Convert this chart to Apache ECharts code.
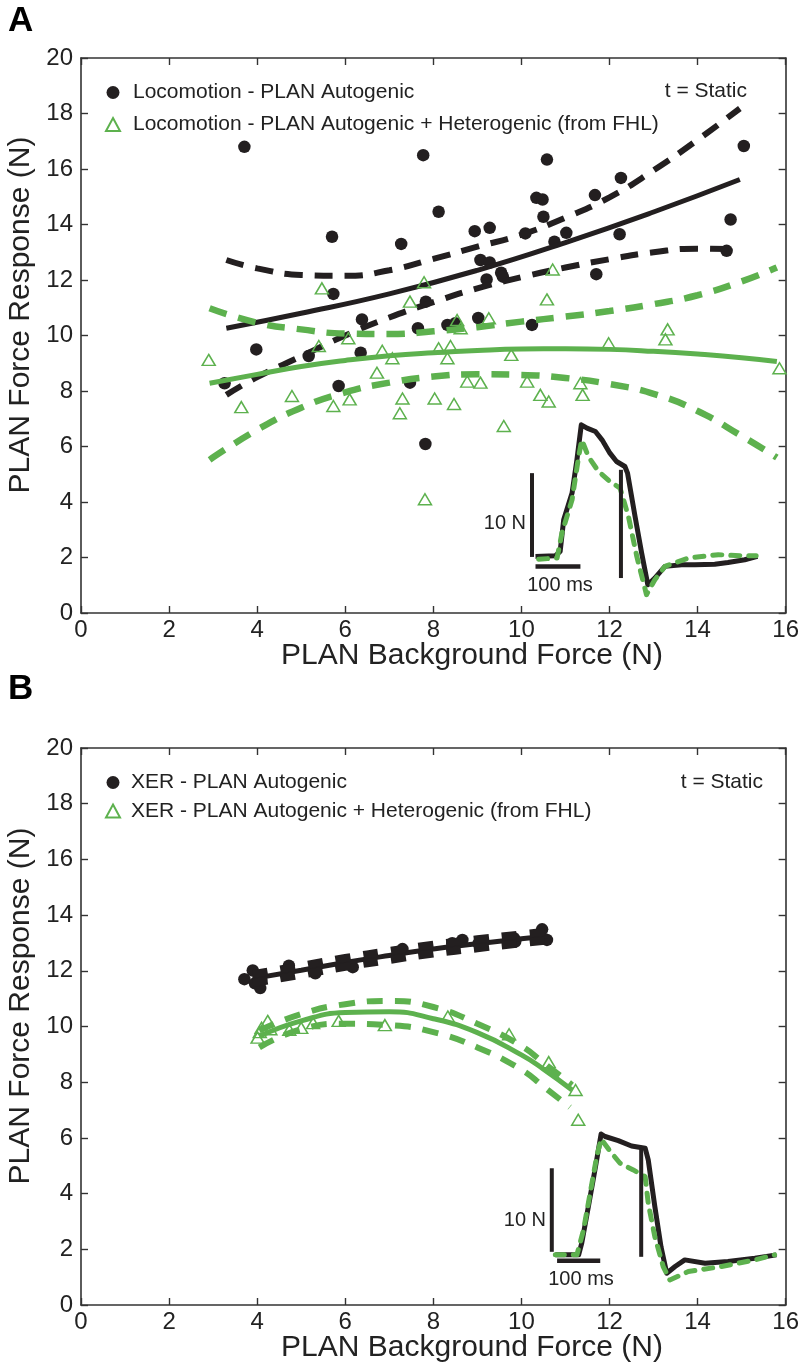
<!DOCTYPE html>
<html>
<head>
<meta charset="utf-8">
<script src="https://cdn.jsdelivr.net/npm/echarts@6/dist/echarts.min.js"></script>
<style>
html,body{margin:0;padding:0;background:#fff;}
#chart{width:802px;height:1367px;}
</style>
</head>
<body>
<div id="chart"></div>
<script>
// ---------------- DATA ----------------
const xTickValues = [0, 2, 4, 6, 8, 10, 12, 14, 16];
const yTickValues = [0, 2, 4, 6, 8, 10, 12, 14, 16, 18, 20];

// Panel A – Locomotion
const locoAutogenic = [[3.26,8.28],[3.71,16.8],[3.98,9.5],[5.17,9.26],[5.70,13.56],[5.73,11.5],[5.85,8.18],[6.35,9.38],[6.38,10.58],[7.27,13.3],[7.47,8.3],[7.65,10.26],[7.77,16.5],[7.83,11.22],[7.82,6.09],[8.12,14.46],[8.32,10.38],[8.5,10.44],[8.94,13.76],[9.02,10.63],[9.07,12.72],[9.21,12.02],[9.28,13.88],[9.28,12.63],[9.54,12.26],[9.58,12.12],[10.09,13.68],[10.24,10.38],[10.34,14.96],[10.48,14.9],[10.5,14.28],[10.58,16.34],[10.75,13.38],[11.02,13.7],[11.67,15.06],[11.70,12.21],[12.23,13.65],[12.26,15.68],[14.66,13.05],[14.75,14.18],[15.05,16.83]];
const locoHetero = [[2.9,9.12],[3.64,7.42],[4.79,7.82],[5.4,9.62],[5.47,11.7],[5.73,7.46],[6.07,9.9],[6.1,7.7],[6.72,8.66],[6.84,9.45],[7.07,9.18],[7.24,7.2],[7.3,7.73],[7.47,11.22],[7.79,11.92],[7.81,4.1],[8.03,7.73],[8.12,9.54],[8.32,9.18],[8.39,9.62],[8.47,7.53],[8.54,10.56],[8.62,10.26],[8.77,8.34],[9.07,8.3],[9.26,10.62],[9.6,6.74],[9.77,9.3],[10.13,8.34],[10.43,7.86],[10.58,11.3],[10.62,7.62],[10.71,12.38],[11.34,8.28],[11.39,7.86],[11.98,9.72],[13.27,9.86],[13.32,10.22],[15.86,8.82]];
const locoAutoFit   = [[3.3,10.26],[5,10.8],[7,11.5],[9,12.35],[11,13.35],[13,14.45],[14.96,15.62]];
const locoAutoUpper = [[3.3,12.72],[4,12.42],[5,12.18],[6,12.15],[7,12.35],[8,12.76],[9,13.2],[10,13.63],[11,14.25],[12,14.98],[13,15.95],[14,17.05],[14.96,18.18]];
const locoAutoLower = [[3.3,7.86],[4,8.5],[5,9.25],[6,10.0],[7,10.65],[8,11.2],[9,11.7],[10,12.1],[11,12.45],[12,12.75],[13,13.0],[14,13.13],[14.96,13.1]];
const locoHetFit    = [[2.92,8.28],[4,8.6],[5,8.88],[6,9.1],[7,9.27],[8,9.38],[9,9.46],[10,9.51],[11,9.52],[12,9.5],[13,9.43],[14,9.33],[15,9.2],[15.8,9.06]];
const locoHetUpper  = [[2.92,10.98],[4,10.46],[5,10.22],[6,10.07],[7,10.05],[8,10.15],[9,10.3],[10,10.5],[11,10.68],[12,10.88],[13,11.13],[14,11.45],[15,11.95],[15.8,12.45]];
const locoHetLower  = [[2.92,5.52],[4,6.6],[5,7.4],[6,7.95],[7,8.3],[8,8.52],[9,8.6],[10,8.58],[11,8.47],[12,8.25],[13,7.9],[14,7.28],[15,6.38],[15.8,5.6]];
// Panel A inset traces (drawn in axis units)
const locoTraceAuto = [[10.32,2.04],[10.77,2.06],[10.88,2.22],[10.96,3.36],[11.15,4.32],[11.26,5.52],[11.36,6.78],[11.49,6.66],[11.68,6.54],[11.83,6.24],[12.01,5.76],[12.16,5.46],[12.35,5.28],[12.41,5.04],[12.58,3.48],[12.73,2.16],[12.87,1.02],[13.03,1.26],[13.26,1.68],[13.64,1.74],[13.94,1.74],[14.39,1.76],[14.69,1.82],[15.07,1.92],[15.36,2.04]];
const locoTraceHet  = [[10.39,1.94],[10.81,1.98],[10.92,2.88],[11.15,4.08],[11.3,5.64],[11.37,6.24],[11.52,5.64],[11.75,5.1],[12.01,4.74],[12.24,4.5],[12.43,3.48],[12.62,2.04],[12.84,0.66],[13.03,1.2],[13.26,1.68],[13.79,1.98],[14.47,2.1],[15.07,2.06],[15.33,2.06]];
const locoBarForce  = [[10.24,5.04],[10.24,2.02]];
const locoBarTime   = [[10.32,1.68],[11.34,1.68]];
const locoStimMark  = [[12.26,5.16],[12.26,1.26]];

// Panel B – XER
const xerAutogenic = [[3.71,11.7],[3.9,12.01],[4.09,11.67],[4.07,11.38],[3.95,11.55],[4.72,12.18],[5.32,11.91],[6.17,12.13],[7.3,12.78],[8.43,12.99],[8.66,13.11],[9.03,12.99],[9.83,13.17],[9.86,13.05],[10.47,13.49],[10.58,13.11]];
const xerHetero = [[4.01,9.6],[4.06,9.8],[4.1,9.95],[4.24,10.2],[4.3,9.9],[4.73,9.88],[5.0,9.95],[5.27,10.12],[5.85,10.2],[6.9,10.05],[8.33,10.36],[9.72,9.72],[10.62,8.72],[11.23,7.72],[11.29,6.65]];
const xerAutoFit   = [[3.9,11.72],[5,12.02],[6,12.3],[7,12.55],[8,12.78],[9,12.97],[10,13.15],[10.6,13.25]];
const xerAutoUpper = [[3.9,11.88],[5,12.18],[6,12.46],[7,12.71],[8,12.94],[9,13.13],[10,13.31],[10.6,13.41]];
const xerAutoLower = [[3.9,11.56],[5,11.86],[6,12.14],[7,12.39],[8,12.62],[9,12.81],[10,12.99],[10.6,13.09]];
const xerHetFit    = [[4.05,9.65],[5,10.2],[6,10.5],[7,10.53],[8,10.28],[9,9.78],[10,8.98],[10.5,8.47],[11.15,7.72]];
const xerHetUpper  = [[4.05,9.85],[5,10.45],[6,10.8],[7,10.92],[8,10.7],[9,10.1],[10,9.3],[10.5,8.7],[11.15,7.9]];
const xerHetLower  = [[4.05,9.25],[5,9.9],[6,10.1],[7,10.05],[8,9.8],[9,9.25],[10,8.45],[10.5,7.85],[11.1,7.1]];
const xerTraceAuto = [[10.77,1.8],[11.3,1.8],[11.37,2.22],[11.52,3.53],[11.67,4.85],[11.81,6.14],[11.9,6.05],[12.2,5.9],[12.5,5.71],[12.81,5.63],[12.88,5.21],[13.03,3.53],[13.17,2.09],[13.3,1.14],[13.49,1.38],[13.71,1.62],[14.17,1.5],[14.69,1.56],[15.3,1.68],[15.79,1.8]];
const xerTraceHet  = [[10.77,1.8],[11.26,1.8],[11.41,2.69],[11.56,4.01],[11.71,5.33],[11.81,5.96],[12.05,5.45],[12.24,5.09],[12.54,4.85],[12.81,4.61],[12.88,3.65],[13.03,2.45],[13.22,1.38],[13.37,0.9],[13.79,1.2],[14.54,1.38],[15.3,1.62],[15.75,1.8]];
const xerBarForce  = [[10.69,4.91],[10.69,1.91]];
const xerBarTime   = [[10.81,1.59],[11.79,1.59]];
const xerStimMark  = [[12.72,5.63],[12.72,1.73]];

const legendA = ['Locomotion - PLAN Autogenic', 'Locomotion - PLAN Autogenic + Heterogenic (from FHL)'];
const legendB = ['XER - PLAN Autogenic', 'XER - PLAN Autogenic + Heterogenic (from FHL)'];
const xTitle = 'PLAN Background Force (N)';
const yTitle = 'PLAN Force Response (N)';

// ---------------- STYLE ----------------
const FONT = '"Liberation Sans", Arial, Helvetica, sans-serif';
const BLACK = '#231f20';
const GREEN = '#5db14e';
const AXIS = '#333333';

function xAx(grid, pos, showLabel) {
  return {
    type: 'value', gridIndex: grid, position: pos, min: 0, max: 16, interval: 2,
    axisLine: { show: true, onZero: false, lineStyle: { color: AXIS, width: 1.6 } },
    axisTick: { show: true, inside: true, length: 7, lineStyle: { color: AXIS, width: 1.4 } },
    axisLabel: { show: showLabel, fontSize: 24, color: '#222', fontFamily: FONT, margin: 5 },
    splitLine: { show: false }
  };
}
function yAx(grid, pos, showLabel) {
  return {
    type: 'value', gridIndex: grid, position: pos, min: 0, max: 20, interval: 2,
    axisLine: { show: true, onZero: false, lineStyle: { color: AXIS, width: 1.6 } },
    axisTick: { show: true, inside: true, length: 7, lineStyle: { color: AXIS, width: 1.4 } },
    axisLabel: { show: showLabel, fontSize: 24, color: '#222', fontFamily: FONT, margin: 8 },
    splitLine: { show: false }
  };
}
function line(data, xi, color, width, dash) {
  return {
    type: 'line', data: data, xAxisIndex: xi, yAxisIndex: xi, smooth: true, showSymbol: false,
    symbol: 'none', silent: true, z: 3,
    lineStyle: { color: color, width: width, type: dash || 'solid', cap: 'butt' }
  };
}
function trace(data, xi, color, width, dash) {
  return {
    type: 'line', data: data, xAxisIndex: xi, yAxisIndex: xi, smooth: false, showSymbol: false,
    symbol: 'none', silent: true, z: 5,
    lineStyle: { color: color, width: width, type: dash || 'solid', cap: dash ? 'round' : 'butt', join: 'round' }
  };
}
function dots(name, data, xi) {
  return { type: 'scatter', name: name, data: data, xAxisIndex: xi, yAxisIndex: xi, symbol: 'circle',
    symbolSize: 12.5, itemStyle: { color: BLACK, opacity: 1 }, z: 2 };
}
function tris(name, data, xi) {
  return { type: 'scatter', name: name, data: data, xAxisIndex: xi, yAxisIndex: xi, symbol: 'triangle',
    symbolSize: [13, 11], itemStyle: { color: 'rgba(255,255,255,0)', borderColor: GREEN, borderWidth: 1.5, opacity: 1 }, z: 4 };
}

const option = {
  animation: false,
  backgroundColor: '#fff',
  grid: [
    { left: 81, top: 58, width: 707, height: 555, containLabel: false },
    { left: 81, top: 748, width: 707, height: 557, containLabel: false }
  ],
  xAxis: [xAx(0, 'bottom', true), xAx(0, 'top', false), xAx(1, 'bottom', true), xAx(1, 'top', false)],
  yAxis: [yAx(0, 'left', true), yAx(0, 'right', false), yAx(1, 'left', true), yAx(1, 'right', false)],
  legend: [
    { data: [{ name: legendA[0], icon: 'circle' }, { name: legendA[1], icon: 'triangle' }],
      orient: 'vertical', left: 105, top: 82, padding: 0, itemWidth: 14, itemHeight: 13, itemGap: 11, selectedMode: false,
      textStyle: { fontSize: 21, color: '#222', fontFamily: FONT, padding: [0, 0, 0, 8] } },
    { data: [{ name: legendB[0], icon: 'circle' }, { name: legendB[1], icon: 'triangle' }],
      orient: 'vertical', left: 105, top: 772, padding: 0, itemWidth: 14, itemHeight: 13, itemGap: 7.5, selectedMode: false,
      textStyle: { fontSize: 21, color: '#222', fontFamily: FONT, padding: [0, 0, 0, 6] } }
  ],
  series: [
    // Panel A
    dots(legendA[0], locoAutogenic, 0),
    tris(legendA[1], locoHetero, 0),
    line(locoAutoFit, 0, BLACK, 5),
    line(locoAutoUpper, 0, BLACK, 6, [18, 12]),
    line(locoAutoLower, 0, BLACK, 6, [18, 12]),
    line(locoHetFit, 0, GREEN, 5),
    line(locoHetUpper, 0, GREEN, 6.5, [18, 12]),
    line(locoHetLower, 0, GREEN, 6.5, [18, 12]),
    trace(locoTraceAuto, 0, BLACK, 5),
    trace(locoTraceHet, 0, GREEN, 5, [9, 9]),
    trace(locoBarForce, 0, BLACK, 4),
    trace(locoBarTime, 0, BLACK, 4.5),
    trace(locoStimMark, 0, BLACK, 4),
    // Panel B
    dots(legendB[0], xerAutogenic, 2),
    tris(legendB[1], xerHetero, 2),
    line(xerAutoFit, 2, BLACK, 5),
    line(xerAutoUpper, 2, BLACK, 8, [15, 13]),
    line(xerAutoLower, 2, BLACK, 8, [15, 13]),
    line(xerHetFit, 2, GREEN, 5),
    line(xerHetUpper, 2, GREEN, 6, [16, 12]),
    line(xerHetLower, 2, GREEN, 6, [16, 12]),
    trace(xerTraceAuto, 2, BLACK, 5),
    trace(xerTraceHet, 2, GREEN, 5, [9, 9]),
    trace(xerBarForce, 2, BLACK, 4),
    trace(xerBarTime, 2, BLACK, 4.5),
    trace(xerStimMark, 2, BLACK, 4)
  ],
  graphic: [
    { type: 'text', left: 8, top: 4, style: { text: 'A', font: 'bold 35px ' + FONT, fill: '#000' } },
    { type: 'text', left: 8, top: 672, style: { text: 'B', font: 'bold 35px ' + FONT, fill: '#000' } },
    { type: 'text', x: 747, y: 91, style: { text: 't = Static', font: '21px ' + FONT, fill: '#222', align: 'right', verticalAlign: 'middle' } },
    { type: 'text', x: 763, y: 782, style: { text: 't = Static', font: '21px ' + FONT, fill: '#222', align: 'right', verticalAlign: 'middle' } },
    { type: 'text', x: 472, y: 656, style: { text: xTitle, font: '30px ' + FONT, fill: '#222', align: 'center', verticalAlign: 'middle' } },
    { type: 'text', x: 472, y: 1348, style: { text: xTitle, font: '30px ' + FONT, fill: '#222', align: 'center', verticalAlign: 'middle' } },
    { type: 'text', x: 21, y: 315, rotation: Math.PI / 2, style: { text: yTitle, font: '30px ' + FONT, fill: '#222', align: 'center', verticalAlign: 'middle' } },
    { type: 'text', x: 21, y: 1006, rotation: Math.PI / 2, style: { text: yTitle, font: '30px ' + FONT, fill: '#222', align: 'center', verticalAlign: 'middle' } },
    { type: 'text', x: 526, y: 523, style: { text: '10 N', font: '20px ' + FONT, fill: '#222', align: 'right', verticalAlign: 'middle' } },
    { type: 'text', x: 560, y: 585, style: { text: '100 ms', font: '20px ' + FONT, fill: '#222', align: 'center', verticalAlign: 'middle' } },
    { type: 'text', x: 546, y: 1220, style: { text: '10 N', font: '20px ' + FONT, fill: '#222', align: 'right', verticalAlign: 'middle' } },
    { type: 'text', x: 581, y: 1279, style: { text: '100 ms', font: '20px ' + FONT, fill: '#222', align: 'center', verticalAlign: 'middle' } }
  ]
};

const chart = echarts.init(document.getElementById('chart'), null, { renderer: 'canvas', width: 802, height: 1367 });
chart.setOption(option);
</script>
</body>
</html>
